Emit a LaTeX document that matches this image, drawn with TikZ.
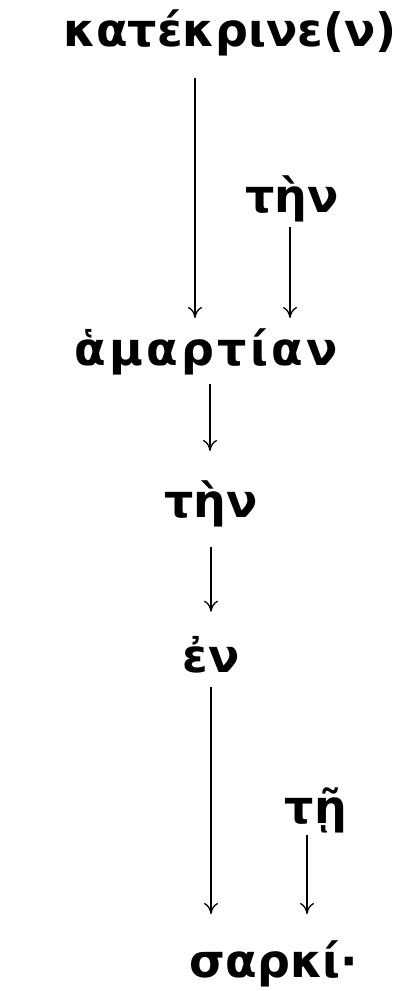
\documentclass[tikz,border=0pt]{standalone}
\usepackage{fontspec}
\setmainfont{DejaVu Sans}
\usetikzlibrary{arrows.meta}
\begin{document}
\begin{tikzpicture}[x=1pt, y=-1pt, font=\fontsize{46}{50}\selectfont\bfseries,
  word/.style={inner sep=0pt, anchor=base},
  wide/.style={font=\fontsize{46}{50}\selectfont\bfseries\addfontfeature{LetterSpace=7}},
  dep/.style={-{To[length=11pt, width=14pt]}, line width=1.3pt, shorten <=14pt, shorten >=14pt}]
  \useasboundingbox (0,0) rectangle (416,991);
  \node[word] (verb) at (230,46) {κατέκρινε(ν)};
  \node[word] (art1) at (292,212) {τὴν};
  \node[word, wide] (noun) at (206,365) {ἁμαρτίαν};
  \node[word] (art2) at (211,517) {τὴν};
  \node[word] (prep) at (211,672) {ἐν};
  \node[word] (art3) at (316,823) {τῇ};
  \node[word] (obj) at (274,977) {σαρκί·};
  \draw[dep, shorten <=22pt, shorten >=10pt] ([xshift=-35pt]verb.south) coordinate (v0) -- (v0 |- noun.north);
  \draw[dep, shorten <=5pt, shorten >=10pt] ([xshift=-2pt]art1.south) coordinate (a1) -- (a1 |- noun.north);
  \draw[dep, shorten <=9pt, shorten >=29pt] ([xshift=4pt]noun.south) coordinate (n0) -- (n0 |- art2.north);
  \draw[dep, shorten <=20pt, shorten >=24pt] (art2.south) -- (art2.south |- prep.north);
  \draw[dep, shorten >=26pt] (prep.south) -- (prep.south |- obj.north);
  \draw[dep, shorten <=2pt, shorten >=26pt] ([xshift=-9pt]art3.south) coordinate (a3) -- (a3 |- obj.north);
\end{tikzpicture}
\end{document}
